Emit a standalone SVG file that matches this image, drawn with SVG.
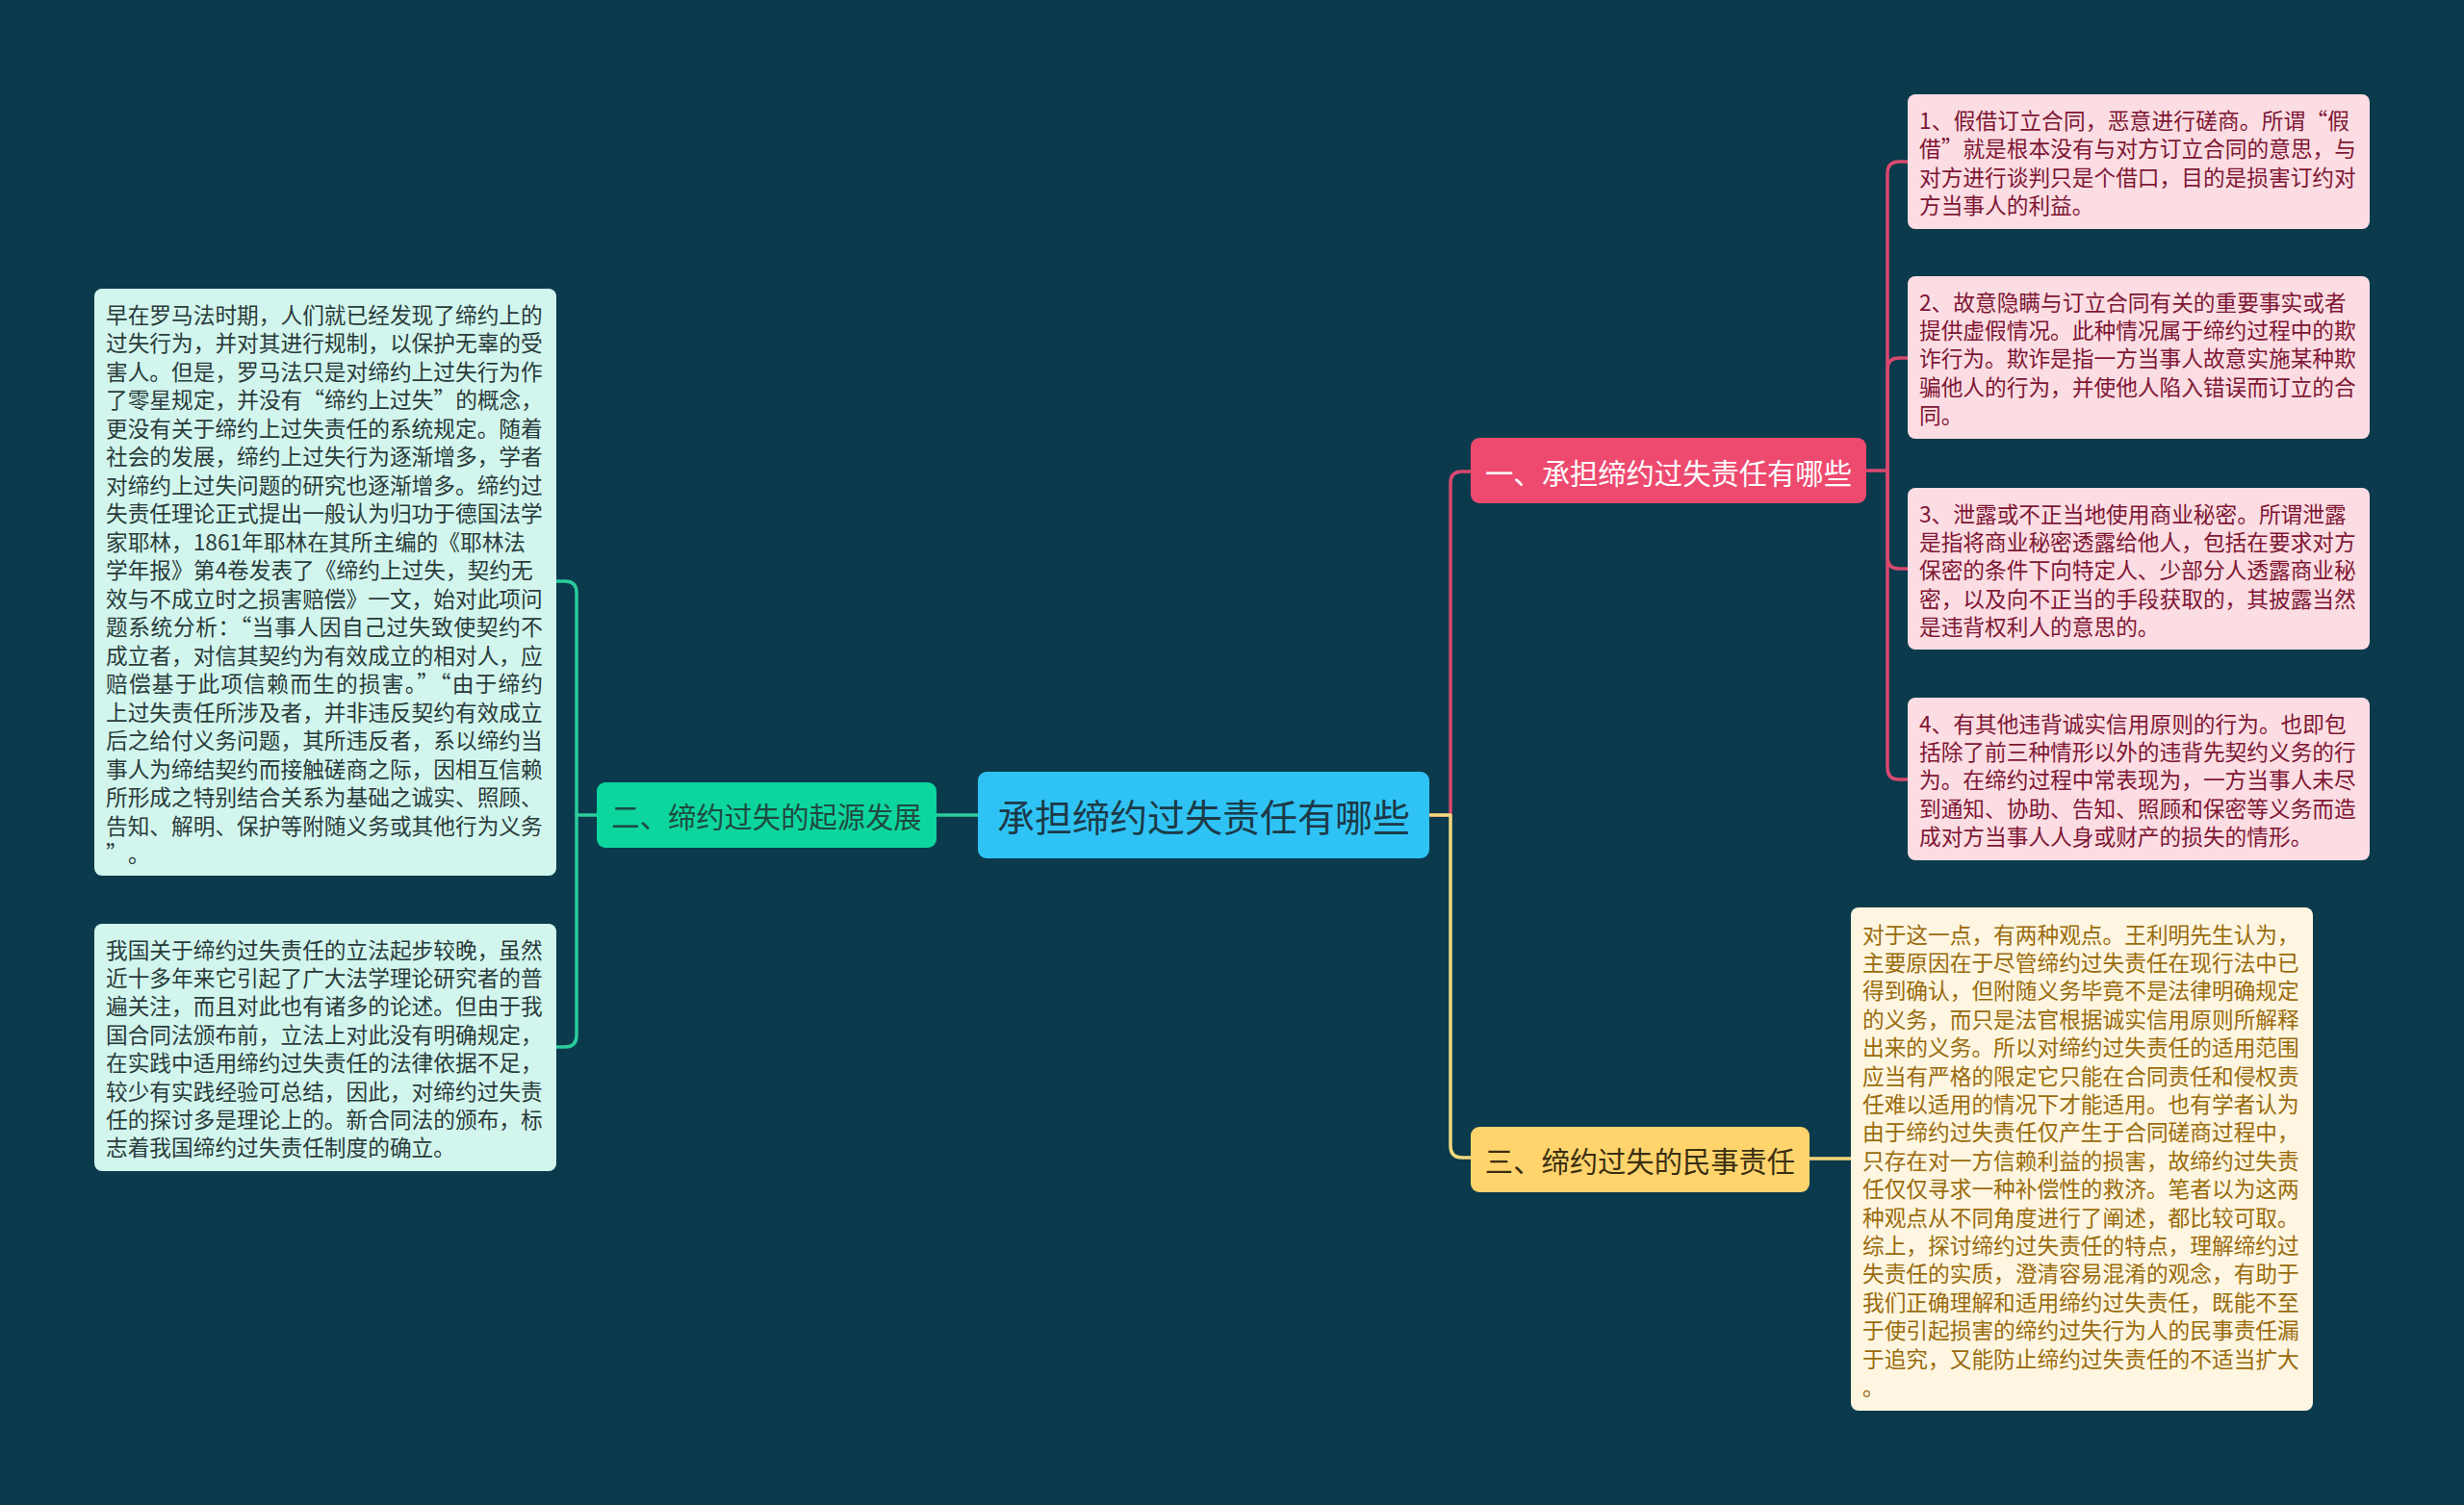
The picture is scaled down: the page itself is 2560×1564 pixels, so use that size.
<svg xmlns="http://www.w3.org/2000/svg" width="2560" height="1564" viewBox="0 0 2560 1564">
<style>
text{font-family:"Noto Sans CJK SC","Noto Sans",sans-serif}
.lc{fill:none;stroke-width:3.5;stroke-linecap:round;stroke-linejoin:round}
.red{stroke:#D9486E}
.yel{stroke:#F2D77C}
.tea{stroke:#2BCB9C}
.bx{font-size:22.7px}
.mint{fill:#D2F6EE}
.mintt{fill:#2A3B3A}
.pink{fill:#FCDDE3}
.pinkt{fill:#7E1634}
.cream{fill:#FEF6E1}
.creamt{fill:#9A6B0C}
.nt{dominant-baseline:central;text-anchor:middle}
</style>
<rect width="2560" height="1564" fill="#0A3A4C"/>
<g id="connectors">
<path class="lc red" d="M1486,847 H1507 V502 Q1507,490 1519,490 H1528"/>
<path class="lc yel" d="M1486,847 H1507 V1191 Q1507,1203 1519,1203 H1528"/>
<path class="lc tea" d="M1016,847 H973"/>
<path class="lc tea" d="M620,847 H599 V616 Q599,604 587,604 H578"/>
<path class="lc tea" d="M599,847 V1076 Q599,1088 587,1088 H578"/>
<path class="lc red" d="M1939,489 H1961 V180 Q1961,168 1973,168 H1982"/>
<path class="lc red" d="M1961,489 V384 Q1961,372 1973,372 H1982"/>
<path class="lc red" d="M1961,489 V579 Q1961,591 1973,591 H1982"/>
<path class="lc red" d="M1961,489 V798 Q1961,810 1973,810 H1982"/>
<path class="lc yel" d="M1880,1204 H1923"/>
</g>
<g id="center">
<rect x="1016" y="802" width="469" height="90" rx="9" fill="#2FC3F5"/>
<text class="nt" x="1250.5" y="847" font-size="39" fill="#1C3A48">承担缔约过失责任有哪些</text>
</g>
<g id="branch1">
<rect x="1528" y="455" width="411" height="68" rx="9" fill="#EE4A70"/>
<text class="nt" x="1733.5" y="489.5" font-size="29.3" fill="#FFFFFF">一、承担缔约过失责任有哪些</text>
</g>
<g id="branch2">
<rect x="620" y="813" width="353" height="68" rx="9" fill="#0CD69E"/>
<text class="nt" x="796.5" y="847" font-size="29.3" fill="#1F4A40">二、缔约过失的起源发展</text>
</g>
<g id="branch3">
<rect x="1528" y="1171" width="352" height="68" rx="9" fill="#FFD46C"/>
<text class="nt" x="1704" y="1205" font-size="29.3" fill="#3A2E10">三、缔约过失的民事责任</text>
</g>
<g id="left1">
<rect class="mint" x="98" y="300" width="480" height="610" rx="8"/>
<text class="bx mintt" x="110">
<tspan x="110" y="335.5">早在罗马法时期，人们就已经发现了缔约上的</tspan>
<tspan x="110" y="365">过失行为，并对其进行规制，以保护无辜的受</tspan>
<tspan x="110" y="394.5">害人。但是，罗马法只是对缔约上过失行为作</tspan>
<tspan x="110" y="453.5">更没有关于缔约上过失责任的系统规定。随着</tspan>
<tspan x="110" y="483">社会的发展，缔约上过失行为逐渐增多，学者</tspan>
<tspan x="110" y="512.5">对缔约上过失问题的研究也逐渐增多。缔约过</tspan>
<tspan x="110" y="542">失责任理论正式提出一般认为归功于德国法学</tspan>
<tspan x="110" y="571.5">家耶林，1861年耶林在其所主编的《耶林法</tspan>
<tspan x="110" y="601">学年报》第4卷发表了《缔约上过失，契约无</tspan>
<tspan x="110" y="630.5">效与不成立时之损害赔偿》一文，始对此项问</tspan>
<tspan x="110" y="689.5">成立者，对信其契约为有效成立的相对人，应</tspan>
<tspan x="110" y="748.5">上过失责任所涉及者，并非违反契约有效成立</tspan>
<tspan x="110" y="778">后之给付义务问题，其所违反者，系以缔约当</tspan>
<tspan x="110" y="807.5">事人为缔结契约而接触磋商之际，因相互信赖</tspan>
<tspan x="110" y="837">所形成之特别结合关系为基础之诚实、照顾、</tspan>
<tspan x="110" y="866.5">告知、解明、保护等附随义务或其他行为义务</tspan>
<tspan x="110" y="896">”</tspan><tspan x="133" y="896">。</tspan>
</text>
<text class="bx mintt" x="110" y="424" textLength="454" lengthAdjust="spacing">了零星规定，并没有“缔约上过失”的概念，</text>
<text class="bx mintt" x="110" y="660" textLength="454" lengthAdjust="spacing">题系统分析：“当事人因自己过失致使契约不</text>
<text class="bx mintt" x="110" y="719" textLength="454" lengthAdjust="spacing">赔偿基于此项信赖而生的损害。”“由于缔约</text>
</g>
<g id="left2">
<rect class="mint" x="98" y="960" width="480" height="257" rx="8"/>
<text class="bx mintt" x="110">
<tspan x="110" y="995.5">我国关于缔约过失责任的立法起步较晚，虽然</tspan>
<tspan x="110" y="1024.9">近十多年来它引起了广大法学理论研究者的普</tspan>
<tspan x="110" y="1054.3">遍关注，而且对此也有诸多的论述。但由于我</tspan>
<tspan x="110" y="1083.7">国合同法颁布前，立法上对此没有明确规定，</tspan>
<tspan x="110" y="1113.1">在实践中适用缔约过失责任的法律依据不足，</tspan>
<tspan x="110" y="1142.5">较少有实践经验可总结，因此，对缔约过失责</tspan>
<tspan x="110" y="1171.9">任的探讨多是理论上的。新合同法的颁布，标</tspan>
<tspan x="110" y="1201.3">志着我国缔约过失责任制度的确立。</tspan>
</text>
</g>
<g id="right1">
<rect class="pink" x="1982" y="98" width="480" height="140" rx="8"/>
<text class="bx pinkt" x="1994" y="134" textLength="447" lengthAdjust="spacing">1、假借订立合同，恶意进行磋商。所谓“假</text>
<text class="bx pinkt" x="1994" y="163.4" textLength="454" lengthAdjust="spacing">借”就是根本没有与对方订立合同的意思，与</text>
<text class="bx pinkt" x="1994">
<tspan x="1994" y="192.8">对方进行谈判只是个借口，目的是损害订约对</tspan>
<tspan x="1994" y="222.2">方当事人的利益。</tspan>
</text>
</g>
<g id="right2">
<rect class="pink" x="1982" y="287" width="480" height="169" rx="8"/>
<text class="bx pinkt" x="1994">
<tspan x="1994" y="322.5">2、故意隐瞒与订立合同有关的重要事实或者</tspan>
<tspan x="1994" y="351.9">提供虚假情况。此种情况属于缔约过程中的欺</tspan>
<tspan x="1994" y="381.3">诈行为。欺诈是指一方当事人故意实施某种欺</tspan>
<tspan x="1994" y="410.7">骗他人的行为，并使他人陷入错误而订立的合</tspan>
<tspan x="1994" y="440.1">同。</tspan>
</text>
</g>
<g id="right3">
<rect class="pink" x="1982" y="507" width="480" height="168" rx="8"/>
<text class="bx pinkt" x="1994">
<tspan x="1994" y="542.5">3、泄露或不正当地使用商业秘密。所谓泄露</tspan>
<tspan x="1994" y="571.9">是指将商业秘密透露给他人，包括在要求对方</tspan>
<tspan x="1994" y="601.3">保密的条件下向特定人、少部分人透露商业秘</tspan>
<tspan x="1994" y="630.7">密，以及向不正当的手段获取的，其披露当然</tspan>
<tspan x="1994" y="660.1">是违背权利人的意思的。</tspan>
</text>
</g>
<g id="right4">
<rect class="pink" x="1982" y="725" width="480" height="169" rx="8"/>
<text class="bx pinkt" x="1994">
<tspan x="1994" y="760.5">4、有其他违背诚实信用原则的行为。也即包</tspan>
<tspan x="1994" y="789.9">括除了前三种情形以外的违背先契约义务的行</tspan>
<tspan x="1994" y="819.3">为。在缔约过程中常表现为，一方当事人未尽</tspan>
<tspan x="1994" y="848.7">到通知、协助、告知、照顾和保密等义务而造</tspan>
<tspan x="1994" y="878.1">成对方当事人人身或财产的损失的情形。</tspan>
</text>
</g>
<g id="bottomright">
<rect class="cream" x="1923" y="943" width="480" height="523" rx="8"/>
<text class="bx creamt" x="1935">
<tspan x="1935" y="979.5">对于这一点，有两种观点。王利明先生认为，</tspan>
<tspan x="1935" y="1008.9">主要原因在于尽管缔约过失责任在现行法中已</tspan>
<tspan x="1935" y="1038.3">得到确认，但附随义务毕竟不是法律明确规定</tspan>
<tspan x="1935" y="1067.7">的义务，而只是法官根据诚实信用原则所解释</tspan>
<tspan x="1935" y="1097.1">出来的义务。所以对缔约过失责任的适用范围</tspan>
<tspan x="1935" y="1126.5">应当有严格的限定它只能在合同责任和侵权责</tspan>
<tspan x="1935" y="1155.9">任难以适用的情况下才能适用。也有学者认为</tspan>
<tspan x="1935" y="1185.3">由于缔约过失责任仅产生于合同磋商过程中，</tspan>
<tspan x="1935" y="1214.7">只存在对一方信赖利益的损害，故缔约过失责</tspan>
<tspan x="1935" y="1244.1">任仅仅寻求一种补偿性的救济。笔者以为这两</tspan>
<tspan x="1935" y="1273.5">种观点从不同角度进行了阐述，都比较可取。</tspan>
<tspan x="1935" y="1302.9">综上，探讨缔约过失责任的特点，理解缔约过</tspan>
<tspan x="1935" y="1332.3">失责任的实质，澄清容易混淆的观念，有助于</tspan>
<tspan x="1935" y="1361.7">我们正确理解和适用缔约过失责任，既能不至</tspan>
<tspan x="1935" y="1391.1">于使引起损害的缔约过失行为人的民事责任漏</tspan>
<tspan x="1935" y="1420.5">于追究，又能防止缔约过失责任的不适当扩大</tspan>
<tspan x="1935" y="1449.9">。</tspan>
</text>
</g>
</svg>
